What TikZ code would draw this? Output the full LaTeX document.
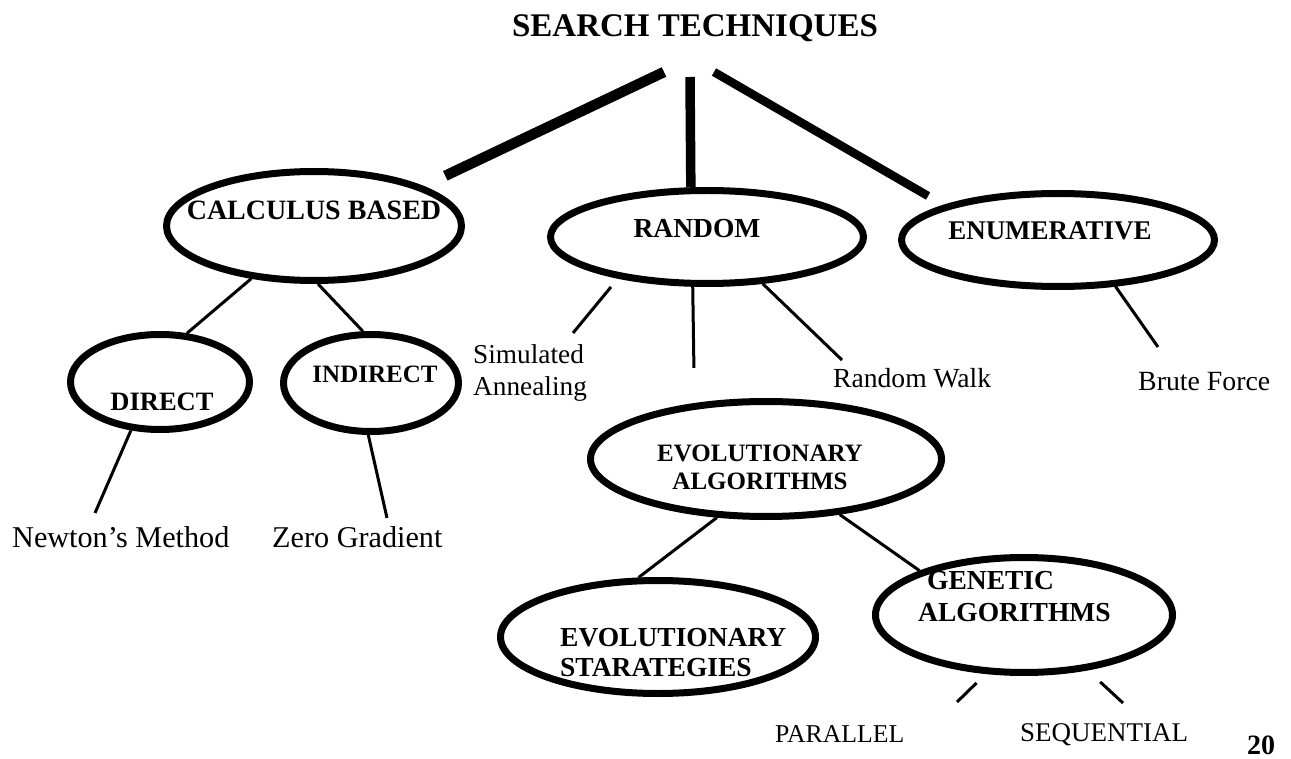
\documentclass[tikz,border=0pt]{standalone}
\usepackage{fontspec}
\setmainfont{Liberation Serif}
\usetikzlibrary{shapes.geometric}
\newcommand\myfs[2]{\fontsize{#1}{#2}\selectfont}
\begin{document}
\begin{tikzpicture}[x=1pt,y=-1pt,
  ell/.style={ellipse, draw, line width=7pt, inner sep=0pt},
  lab/.style={inner sep=0pt},
  trunk/.style={line width=10.5pt},
  twig/.style={line width=3pt}]
\useasboundingbox (0,0) rectangle (1291,759);
\fill[white] (0,0) rectangle (1291,759);

% title
\node[lab, anchor=base, font=\bfseries\myfs{33}{40}] (title) at (695,37) {SEARCH TECHNIQUES};

% ellipses
\node[ell, minimum width=295pt, minimum height=109pt] (calc) at (314,226) {};
\node[ell, minimum width=313pt, minimum height=93pt] (random) at (707,237) {};
\node[ell, minimum width=313pt, minimum height=93pt] (enum) at (1058,240) {};
\node[ell, minimum width=179pt, minimum height=95pt] (direct) at (160,382) {};
\node[ell, minimum width=175pt, minimum height=97pt] (indirect) at (371,383) {};
\node[ell, minimum width=351pt, minimum height=115pt] (ea) at (766,459) {};
\node[ell, minimum width=315pt, minimum height=113pt] (es) at (658,637) {};
\node[ell, minimum width=297pt, minimum height=115pt] (ga) at (1024,615) {};

% ellipse texts
\node[lab, anchor=base, font=\bfseries\myfs{28}{30}] (calc-t) at (314,220) {CALCULUS BASED};
\node[lab, anchor=base, font=\bfseries\myfs{27.5}{30}] (random-t) at (697,238) {RANDOM};
\node[lab, anchor=base, font=\bfseries\myfs{27}{30}] (enum-t) at (1050,240) {ENUMERATIVE};
\node[lab, anchor=base, font=\bfseries\myfs{26.5}{30}] (direct-t) at (162,410) {DIRECT};
\node[lab, anchor=base, font=\bfseries\myfs{25}{30}] (indirect-t) at (375,382) {INDIRECT};
\node[lab, anchor=north, align=center, font=\bfseries\myfs{25}{28}] (ea-t) at (760,445) {EVOLUTIONARY\\ALGORITHMS};
\node[lab, anchor=north west, align=left, font=\bfseries\myfs{27.5}{30}] (es-t) at (560,628.3) {EVOLUTIONARY\\STARATEGIES};
\node[lab, anchor=north west, align=left, font=\bfseries\myfs{27.5}{32}] (ga-t) at (918,571.3) {\hspace*{9pt}GENETIC\\ALGORITHMS};

% leaf texts
\node[lab, anchor=north west, align=left, font=\myfs{27.3}{32}] (sim) at (473,344.6) {Simulated\\Annealing};
\node[lab, anchor=base west, font=\myfs{27.6}{30}] (rw) at (833,388) {Random Walk};
\node[lab, anchor=base west, font=\myfs{27.8}{30}] (bf) at (1138,390) {Brute Force};
\node[lab, anchor=base west, font=\myfs{30.2}{32}] (nm) at (12,547) {Newton’s Method};
\node[lab, anchor=base west, font=\myfs{30.2}{32}] (zg) at (272,547) {Zero Gradient};
\node[lab, anchor=base west, font=\myfs{25.7}{30}] (par) at (775,742) {PARALLEL};
\node[lab, anchor=base west, font=\myfs{27}{30}] (seq) at (1020,741) {SEQUENTIAL};
\node[lab, anchor=base west, font=\bfseries\myfs{28}{30}] (pg) at (1247,754) {20};

% free ends
\coordinate (rootL) at (664,72);
\coordinate (rootM) at (690,77);
\coordinate (rootR) at (714,72);
\coordinate (simtop) at (573,333);
\coordinate (rwtop) at (842,360);
\coordinate (bftop) at (1158,347);
\coordinate (nmtop) at (95,513);
\coordinate (zgtop) at (387,518);
\coordinate (partop) at (957,702);
\coordinate (seqtop) at (1123,703);

% trunk lines
\draw[trunk, shorten >=24pt] (rootL) -- (calc.20.6);
\draw[trunk, line width=9.5pt] (rootM) -- (random.108.9);
\draw[trunk, line width=8.5pt, shorten >=18pt] (rootR) -- (enum.163.1);

% thin connectors
\draw[twig] (calc.220) -- (direct.61);
\draw[twig] (calc.274) -- (indirect.99);
\draw[twig, shorten <=10.9pt] (random.205.4) -- (simtop);
\draw[twig, shorten >=35.3pt] (random.254.3) -- (ea.142.7);
\draw[twig] (random.320) -- (rwtop);
\draw[twig] (enum.321) -- (bftop);
\draw[twig] (direct.239) -- (nmtop);
\draw[twig] (indirect.267) -- (zgtop);
\draw[twig] (ea.230) -- (es.108);
\draw[twig] (ea.323) -- (ga.157);
\draw[twig, shorten <=12.8pt] (ga.237.7) -- (partop);
\draw[twig, shorten <=17pt] (ga.319.5) -- (seqtop);
\end{tikzpicture}
\end{document}
